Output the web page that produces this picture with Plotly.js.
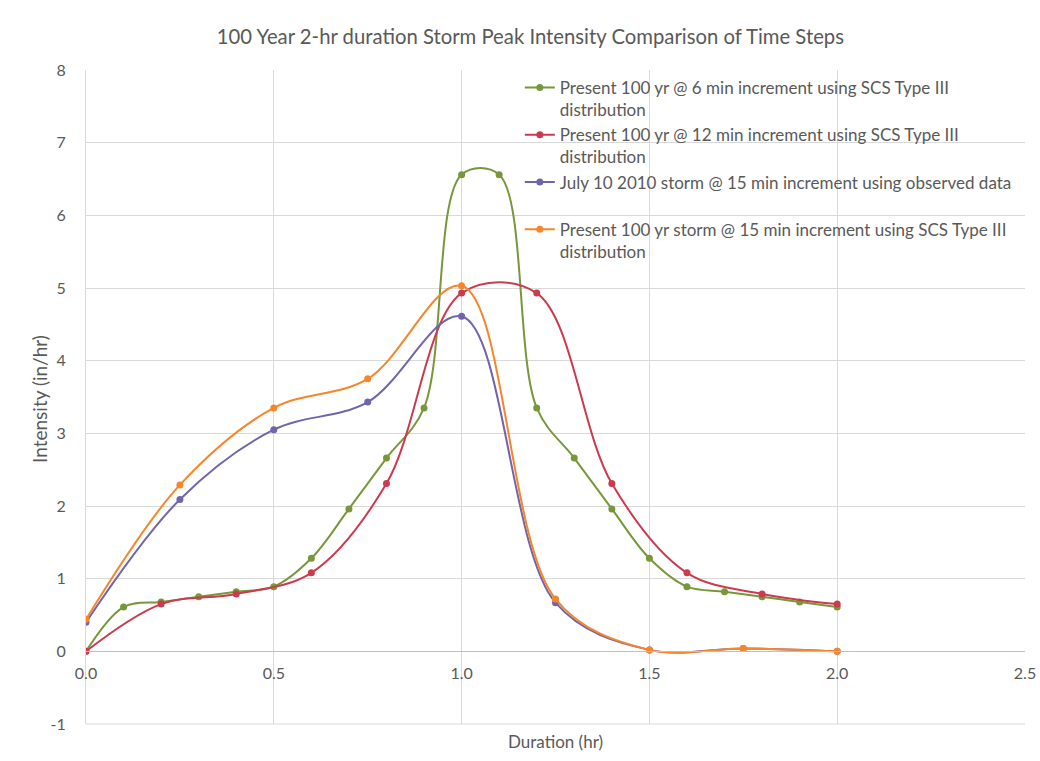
<!DOCTYPE html>
<html>
<head>
<meta charset="utf-8">
<script src="https://cdn.plot.ly/plotly-3.0.1.min.js"></script>
<style>
html,body{margin:0;padding:0;background:#fff;}
#chart{width:1040px;height:761px;}
</style>
</head>
<body>
<div id="chart"></div>
<script>
// Data
const x6 = [0,0.1,0.2,0.3,0.4,0.5,0.6,0.7,0.8,0.9,1.0,1.1,1.2,1.3,1.4,1.5,1.6,1.7,1.8,1.9,2.0];
const y6 = [0,0.61,0.68,0.75,0.82,0.89,1.28,1.96,2.66,3.35,6.56,6.56,3.35,2.66,1.96,1.28,0.89,0.82,0.75,0.68,0.61];
const x12 = [0,0.2,0.4,0.6,0.8,1.0,1.2,1.4,1.6,1.8,2.0];
const y12 = [0,0.65,0.79,1.08,2.31,4.93,4.93,2.31,1.08,0.79,0.65];
const x15 = [0,0.25,0.5,0.75,1.0,1.25,1.5,1.75,2.0];
const yObs = [0.40,2.09,3.05,3.43,4.61,0.67,0.02,0.04,0];
const y15 = [0.44,2.29,3.35,3.75,5.03,0.72,0.02,0.04,0];
const yTickVals = [-1,0,1,2,3,4,5,6,7,8];
const yTickText = ["-1","0","1","2","3","4","5","6","7","8"];

const names = [
  "Present 100 yr @ 6 min increment using SCS Type III<br>distribution",
  "Present 100 yr @ 12 min increment using SCS Type III<br>distribution",
  "July 10 2010 storm @ 15 min increment using observed data<br> ",
  "Present 100 yr storm @ 15 min increment using SCS Type III<br>distribution"
];
const colors = ["#77973a", "#cc3a4e", "#7264ac", "#f7862a"];

function tr(x, y, i) {
  return {
    x: x, y: y, name: names[i], type: "scatter", mode: "lines+markers",
    line: {color: colors[i], width: 2, shape: "spline", smoothing: 1},
    marker: {color: colors[i], size: 7, symbol: "circle"}
  };
}
const data = [tr(x6, y6, 0), tr(x12, y12, 1), tr(x15, yObs, 2), tr(x15, y15, 3)];

const fontFam = "Lato, 'Liberation Sans', sans-serif";
const layout = {
  width: 1040, height: 761,
  margin: {l: 86, r: 15, t: 70, b: 37},
  paper_bgcolor: "#fff", plot_bgcolor: "#fff",
  font: {family: fontFam, color: "#595959", size: 16},
  title: {text: "100 Year 2-hr duration Storm Peak Intensity Comparison of Time Steps",
          font: {size: 20.3, color: "#595959", family: fontFam}, x: 0.51, xanchor: "center", y: 0.952, yanchor: "middle"},
  xaxis: {
    range: [0, 2.5], dtick: 0.5, tick0: 0, tickformat: ".1f",
    anchor: "free", position: 1/9,
    showgrid: true, gridcolor: "#d9d9d9", gridwidth: 1,
    showline: true, linecolor: "#bfbfbf", linewidth: 1,
    zeroline: false, ticks: "", ticklabelstandoff: 7, tickfont: {size: 16, color: "#595959"}
  },
  yaxis: {
    range: [-1, 8], tickvals: yTickVals, ticktext: yTickText,
    showgrid: true, gridcolor: "#d9d9d9", gridwidth: 1,
    showline: true, linecolor: "#d9d9d9", linewidth: 1,
    zeroline: false, ticks: "", ticklabelstandoff: 16, tickfont: {size: 16, color: "#595959"}
  },
  legend: {
    x: 0.462, y: 1.0, xanchor: "left", yanchor: "top",
    bgcolor: "rgba(255,255,255,0)", font: {size: 17, color: "#595959"},
    valign: "top", tracegroupgap: 0
  },
  annotations: [
    {text: "Duration (hr)", xref: "paper", yref: "paper", x: 0.4995, y: -0.026,
     xanchor: "center", yanchor: "middle", showarrow: false, font: {size: 17, color: "#595959"}},
    {text: "Intensity (in/hr)", xref: "paper", yref: "paper", x: -0.049, y: 0.497, textangle: -90,
     xanchor: "center", yanchor: "middle", showarrow: false, font: {size: 19, color: "#595959"}}
  ],
  shapes: [
    {type: "line", xref: "paper", yref: "paper", x0: 0, x1: 1, y0: 0, y1: 0,
     line: {color: "#d9d9d9", width: 1}}
  ],
  showlegend: true
};
Plotly.newPlot("chart", data, layout, {displayModeBar: false, staticPlot: true});
</script>
</body>
</html>
